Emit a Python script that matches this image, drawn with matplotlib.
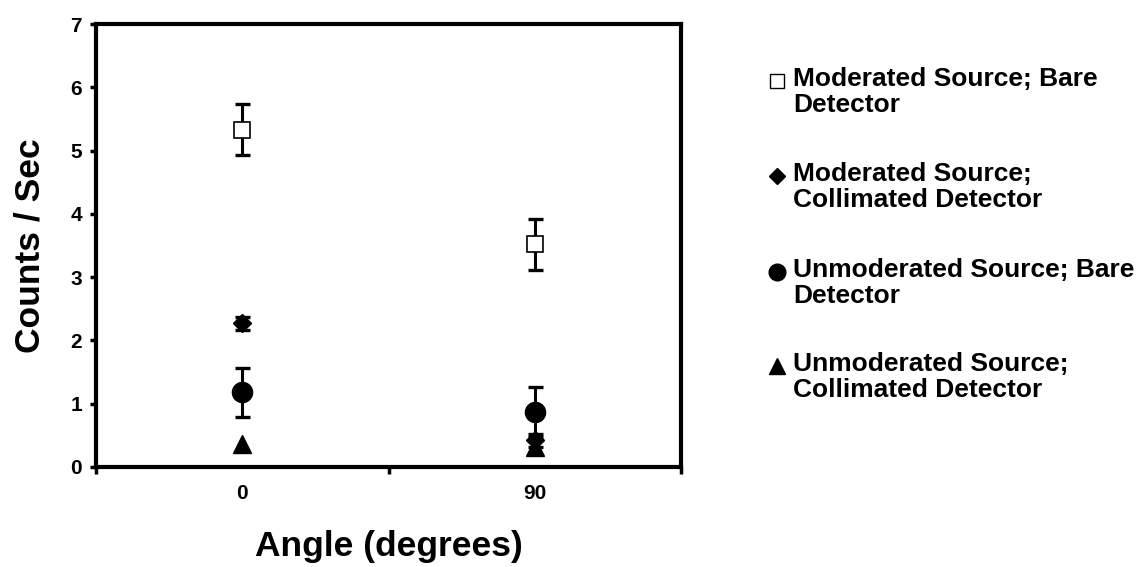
import matplotlib
matplotlib.use("Agg")
import matplotlib.pyplot as plt
from matplotlib.lines import Line2D
import numpy as np

plt.rcParams['font.family'] = ['Liberation Sans', 'DejaVu Sans']
plt.rcParams['font.weight'] = 'bold'

categories = ["0", "90"]
series_names = ["Moderated Source; Bare\nDetector",
                "Moderated Source;\nCollimated Detector",
                "Unmoderated Source; Bare\nDetector",
                "Unmoderated Source;\nCollimated Detector"]
mod_bare = [5.33, 3.52]
mod_bare_err = [0.40, 0.40]
mod_coll = [2.27, 0.42]
mod_coll_err = [0.10, 0.10]
unmod_bare = [1.18, 0.87]
unmod_bare_err = [0.39, 0.40]
unmod_coll = [0.36, 0.32]
unmod_coll_err = [0.0, 0.0]

fig = plt.figure(figsize=(11.46, 5.67), dpi=100)
ax = fig.add_axes([96/1146, 1-467/567, (681-96)/1146, (467-24)/567])

x = np.arange(len(categories))
styles = [
    (mod_bare, mod_bare_err, dict(marker='s', ms=12, mfc='white', mec='black', mew=1.2)),
    (mod_coll, mod_coll_err, dict(marker='D', ms=9, mfc='black', mec='black')),
    (unmod_bare, unmod_bare_err, dict(marker='o', ms=14.5, mfc='black', mec='black')),
    (unmod_coll, unmod_coll_err, dict(marker='^', ms=13, mfc='black', mec='black')),
]
for vals, errs, st in styles:
    if any(e > 0 for e in errs):
        ax.errorbar(x, vals, yerr=errs, fmt='none', ecolor='black', elinewidth=2.2,
                    capsize=5.4, capthick=2.4, zorder=2)
    ax.plot(x, vals, linestyle='none', zorder=3, **st)

ax.set_xlim(-0.5, 1.5)
ax.set_ylim(0, 7)
ax.set_yticks(range(0, 8))
ax.set_xticks([-0.5, 0.5, 1.5])
ax.set_xticklabels([])
ax.set_xticks(x, minor=True)
ax.set_xticklabels(categories, minor=True)
ax.tick_params(axis='x', which='minor', length=0, pad=12, labelsize=15)
ax.tick_params(axis='x', which='major', length=5, width=2.5, direction='out')
ax.tick_params(axis='y', length=4, width=2.5, direction='out', labelsize=15, pad=6)
for lab in ax.get_xticklabels(minor=True) + ax.get_yticklabels():
    lab.set_fontweight('bold')
for s in ax.spines.values():
    s.set_linewidth(3)

ax.set_xlabel("Angle (degrees)", fontsize=25.5, fontweight='bold', labelpad=20)
ax.set_ylabel("Counts / Sec", fontsize=25.5, fontweight='bold', labelpad=17)

# legend drawn manually
leg_markers = [dict(marker='s', ms=10.5, mfc='white', mec='black', mew=1.0),
               dict(marker='D', ms=8, mfc='black', mec='black'),
               dict(marker='o', ms=12, mfc='black', mec='black'),
               dict(marker='^', ms=11, mfc='black', mec='black')]
first_baselines = [84, 179, 275, 369]
line_gap = 28
for name, st, b in zip(series_names, leg_markers, first_baselines):
    fig.add_artist(Line2D([777/1146], [1-(b-3)/567], transform=fig.transFigure,
                          linestyle='none', **st))
    fig.text(793/1146, 1-(b+line_gap)/567, name, fontsize=19, fontweight='bold',
             va='baseline', ha='left', linespacing=1.12)

fig.savefig("out.png", dpi=100)
